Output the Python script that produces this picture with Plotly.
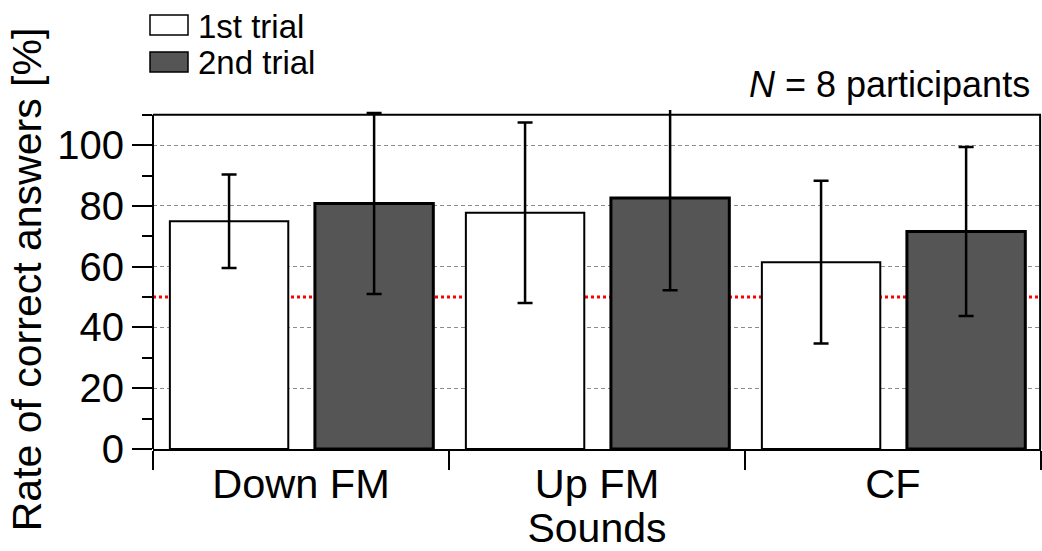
import plotly.graph_objects as go

# ---- data ----
categories = ["Down FM", "Up FM", "CF"]
first_trial = [75.0, 77.8, 61.5]
first_err = [15.4, 29.7, 26.8]
second_trial = [80.8, 82.6, 71.6]
second_err = [29.8, 30.3, 27.8]
series_names = ["1st trial", "2nd trial"]
chance_level = 50
y_ticks = [0, 20, 40, 60, 80, 100]

FONT = "Liberation Sans, Arial, sans-serif"
W, H = 1042, 551
ML, MR, MT, MB = 153, 1, 110, 102
YMAX = 111.6
FRAME_TOP = 110


def px_x(px):
    return (px - ML) / (W - ML - MR)


def px_y(py):
    return (H - MB - py) / (H - MT - MB)


fig = go.Figure()
fig.add_trace(go.Bar(
    x=categories, y=first_trial, name=series_names[0],
    width=0.4, offset=-0.443,
    marker=dict(color="white", line=dict(color="black", width=2)),
    error_y=dict(type="data", array=first_err, visible=True,
                 color="black", thickness=2.5, width=7.5),
    showlegend=False,
))
fig.add_trace(go.Bar(
    x=categories, y=second_trial, name=series_names[1],
    width=0.4, offset=0.047,
    marker=dict(color="#555555", line=dict(color="black", width=3)),
    error_y=dict(type="data", array=second_err, visible=True,
                 color="black", thickness=2.5, width=7.5),
    showlegend=False,
))

frame_top_paper = FRAME_TOP / YMAX
shapes = [
    # chance level
    dict(type="line", xref="paper", x0=0, x1=1, yref="y", y0=chance_level, y1=chance_level,
         line=dict(color="#ff0000", width=3, dash="dot"), layer="below"),
    # frame: left, top, right
    dict(type="line", xref="paper", x0=0, x1=0, yref="paper", y0=0, y1=frame_top_paper,
         line=dict(color="black", width=2)),
    dict(type="line", xref="paper", x0=0, x1=1, yref="paper", y0=frame_top_paper, y1=frame_top_paper,
         line=dict(color="black", width=2)),
    dict(type="line", xref="paper", x0=0.999, x1=0.999, yref="paper", y0=0, y1=frame_top_paper,
         line=dict(color="black", width=2)),
    # legend swatches
    dict(type="rect", xref="paper", yref="paper",
         x0=px_x(150), x1=px_x(188), y0=px_y(35), y1=px_y(15),
         fillcolor="white", line=dict(color="black", width=1.5)),
    dict(type="rect", xref="paper", yref="paper",
         x0=px_x(150), x1=px_x(188), y0=px_y(72), y1=px_y(52),
         fillcolor="#555555", line=dict(color="black", width=1.5)),
]

annotations = [
    dict(text=series_names[0], xref="paper", yref="paper", x=px_x(197), y=px_y(26),
         xanchor="left", yanchor="middle", showarrow=False, borderpad=0,
         font=dict(family=FONT, size=33, color="black")),
    dict(text=series_names[1], xref="paper", yref="paper", x=px_x(197), y=px_y(62),
         xanchor="left", yanchor="middle", showarrow=False, borderpad=0,
         font=dict(family=FONT, size=33, color="black")),
    dict(text="<i>N</i> = 8 participants", xref="paper", yref="paper",
         x=px_x(1032), y=px_y(84), xanchor="right", yanchor="middle", showarrow=False,
         font=dict(family=FONT, size=36, color="black")),
]

fig.update_layout(
    width=W, height=H,
    margin=dict(l=ML, r=MR, t=MT, b=MB, pad=0),
    paper_bgcolor="white", plot_bgcolor="white",
    font=dict(family=FONT, size=41, color="black"),
    barmode="group", hovermode=False,
    shapes=shapes, annotations=annotations,
    showlegend=False,
    xaxis=dict(
        type="category", range=[-0.5, 2.5],
        tickson="boundaries", ticks="outside", ticklen=19, tickwidth=2, tickcolor="black",
        showline=True, linecolor="black", linewidth=2,
        showgrid=False, zeroline=False,
        tickfont=dict(size=41.5), ticklabelstandoff=-3,
        title=dict(text="Sounds", font=dict(size=41), standoff=4),
        automargin=False,
    ),
    yaxis=dict(
        range=[0, YMAX], tickvals=y_ticks,
        ticks="outside", ticklen=20, tickwidth=2, tickcolor="black",
        minor=dict(dtick=10, tick0=0, ticks="outside", ticklen=10, tickwidth=2,
                   tickcolor="black", showgrid=False),
        showline=False, zeroline=False,
        showgrid=True, gridcolor="#8c8c8c", gridwidth=1, griddash="4px,3px",
        tickfont=dict(size=40),
        title=dict(text="Rate of correct answers [%]", font=dict(size=41), standoff=2),
        automargin=False,
    ),
)

fig.write_html(
    "out.html",
    config={"displayModeBar": False, "staticPlot": True},
    post_script="document.body.style.margin='0px';document.body.style.overflow='hidden';",
)
